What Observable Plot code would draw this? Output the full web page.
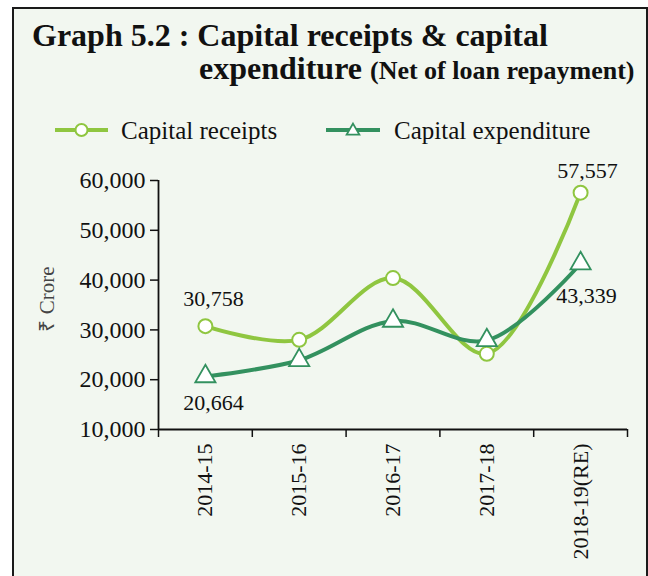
<!DOCTYPE html>
<html>
<head>
<meta charset="utf-8">
<script src="https://cdn.jsdelivr.net/npm/d3@7"></script>
<script src="https://cdn.jsdelivr.net/npm/@observablehq/plot@0.6"></script>
<style>
  html, body { margin: 0; padding: 0; background: #ffffff; }
  body { width: 648px; height: 576px; position: relative; overflow: hidden; font-family: "Liberation Serif", "Times New Roman", serif; }
  #frame { position: absolute; left: 12px; top: 7px; width: 632px; height: 580px; background: #f2f7f0; border: 2px solid #1a1a1a; }
  .t { position: absolute; white-space: nowrap; font-weight: bold; color: #111; line-height: 30px; }
  #legend { position: absolute; left: 0; top: 110px; }
  #chart { position: absolute; left: 0; top: 150px; }
</style>
</head>
<body>
<div id="frame"></div>
<div class="t" id="t1" style="left:32px; top:20px; font-size:32px;">Graph 5.2 : Capital receipts &amp; capital</div>
<div class="t" id="t2" style="left:199px; top:53px; font-size:32px;">expenditure <span style="font-size:26px;">(Net of loan repayment)</span></div>
<div id="legend"></div>
<div id="chart"></div>
<script>
const categories = ["2014-15", "2015-16", "2016-17", "2017-18", "2018-19(RE)"];
const capitalReceipts = [30758, 28000, 40400, 25200, 57557];
const capitalExpenditure = [20664, 23900, 31800, 27900, 43339];
const yTicks = [10000, 20000, 30000, 40000, 50000, 60000];
const seriesNames = ["Capital receipts", "Capital expenditure"];
const labelled = [
  {series: "receipts", index: 0, text: "30,758"},
  {series: "expenditure", index: 0, text: "20,664"},
  {series: "receipts", index: 4, text: "57,557"},
  {series: "expenditure", index: 4, text: "43,339"}
];

const cReceipts = "#8fc640";
const cExpend = "#33915f";
const font = "'Liberation Serif', 'Times New Roman', serif";

const rows = categories.map((c, i) => ({
  pos: i + 0.5, cat: c, receipts: capitalReceipts[i], expenditure: capitalExpenditure[i]
}));
const bounds = d3.range(categories.length + 1);
const lab = labelled.map(l => ({...l, pos: rows[l.index].pos, v: rows[l.index][l.series]}));

// Legend
const leg = d3.select("#legend").append("svg").attr("width", 648).attr("height", 40)
  .style("font-family", font);
const items = [
  {name: seriesNames[0], color: cReceipts, sym: "circle", x0: 55, x1: 108, xt: 121},
  {name: seriesNames[1], color: cExpend, sym: "triangle", x0: 326, x1: 380, xt: 394}
];
items.forEach(it => {
  const g = leg.append("g");
  g.append("line").attr("x1", it.x0).attr("x2", it.x1).attr("y1", 20).attr("y2", 20)
    .attr("stroke", it.color).attr("stroke-width", 4);
  const cx = (it.x0 + it.x1) / 2;
  if (it.sym === "circle") {
    g.append("circle").attr("cx", cx).attr("cy", 20).attr("r", 6)
      .attr("fill", "#ffffff").attr("stroke", it.color).attr("stroke-width", 2);
  } else {
    g.append("path").attr("d", d3.symbol(d3.symbolTriangle, 70)()).attr("transform", `translate(${cx},21)`)
      .attr("fill", "#ffffff").attr("stroke", it.color).attr("stroke-width", 1.8);
  }
  g.append("text").attr("x", it.xt).attr("y", 20).attr("dy", "0.35em")
    .attr("font-size", 25).attr("fill", "#111").text(it.name);
});

const chart = Plot.plot({
  width: 648,
  height: 426,
  marginLeft: 158,
  marginRight: 21,
  marginTop: 30,
  marginBottom: 147,
  style: {background: "transparent", fontFamily: font, fontSize: "22px", color: "#111", overflow: "visible"},
  x: {domain: [0, categories.length], axis: null},
  y: {domain: [10000, 60000], axis: null},
  marks: [
    Plot.axisY({ticks: yTicks, tickSize: 8, tickPadding: 5, fontSize: 24, stroke: "#111", strokeWidth: 1.5, tickFormat: d3.format(","), label: null}),
    Plot.axisX({ticks: bounds, tickSize: 8, tickFormat: () => "", stroke: "#111", strokeWidth: 1.5, label: null}),
    Plot.axisX({ticks: rows.map(d => d.pos), tickSize: 0, tickPadding: 14, tickRotate: -90, fontSize: 22,
      tickFormat: (d, i) => categories[i], label: null}),
    Plot.ruleX([0], {stroke: "#111", strokeWidth: 1.8}),
    Plot.ruleY([10000], {stroke: "#111", strokeWidth: 1.8}),
    Plot.text(["₹ Crore"], {frameAnchor: "left", dx: -111, dy: -6, rotate: -90, textAnchor: "middle", fontSize: 21, fill: "#444"}),
    Plot.line(rows, {x: "pos", y: "receipts", stroke: cReceipts, strokeWidth: 4, curve: "catmull-rom"}),
    Plot.line(rows, {x: "pos", y: "expenditure", stroke: cExpend, strokeWidth: 4, curve: "catmull-rom"}),
    Plot.dot(rows, {x: "pos", y: "receipts", r: 7, fill: "#ffffff", stroke: cReceipts, strokeWidth: 2}),
    Plot.dot(rows, {x: "pos", y: "expenditure", symbol: "triangle", r: 7.5, fill: "#ffffff", stroke: cExpend, strokeWidth: 1.8}),
    Plot.text(lab.filter(d => d.text === "30,758"), {x: "pos", y: "v", text: "text", dx: 8, dy: -27, fontSize: 22, fill: "#111"}),
    Plot.text(lab.filter(d => d.text === "20,664"), {x: "pos", y: "v", text: "text", dx: 8, dy: 27, fontSize: 22, fill: "#111"}),
    Plot.text(lab.filter(d => d.text === "57,557"), {x: "pos", y: "v", text: "text", dx: 7, dy: -22, fontSize: 22, fill: "#111"}),
    Plot.text(lab.filter(d => d.text === "43,339"), {x: "pos", y: "v", text: "text", dx: 6, dy: 32, fontSize: 22, fill: "#111"})
  ]
});
document.getElementById("chart").appendChild(chart);
</script>
</body>
</html>
